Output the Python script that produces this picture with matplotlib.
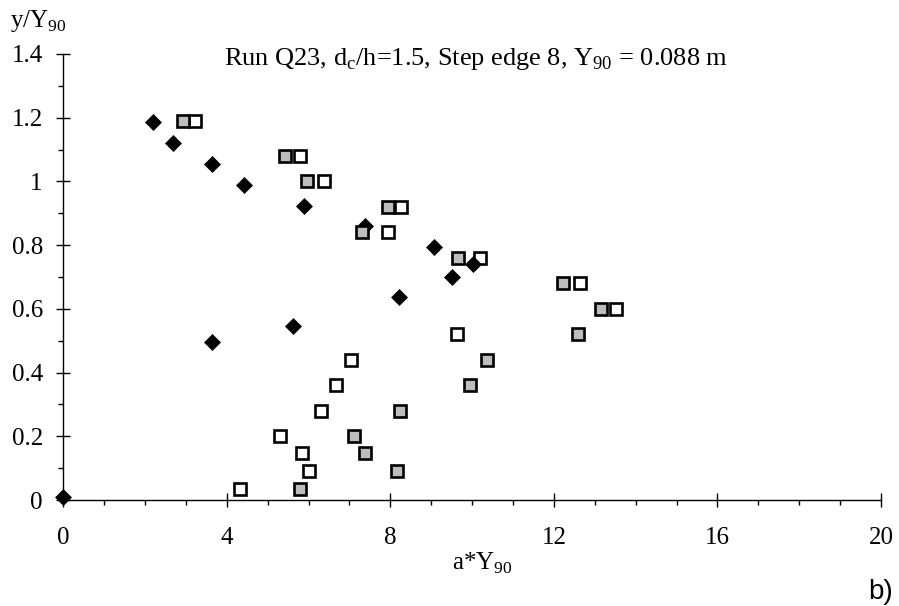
import numpy as np
import matplotlib
matplotlib.use('Agg')
import matplotlib.pyplot as plt
from matplotlib.ticker import MultipleLocator, FuncFormatter

plt.rcParams['font.family'] = ['Liberation Serif', 'DejaVu Serif']
plt.rcParams['mathtext.fontset'] = 'custom'
plt.rcParams['mathtext.rm'] = 'Liberation Serif'

# --- Data ---
# Black diamonds
dia_x = [0.0, 2.19, 2.68, 3.63, 4.41, 5.88, 7.38, 9.06, 10.02, 9.50, 8.21, 5.61, 3.64]
dia_y = [0.01, 1.186, 1.120, 1.054, 0.988, 0.923, 0.860, 0.794, 0.740, 0.700, 0.637, 0.546, 0.495]

# Shared vertical levels of the two square series
sq_y = [1.19, 1.08, 1.00, 0.92, 0.84, 0.76, 0.68, 0.60, 0.52, 0.44, 0.36, 0.28, 0.20, 0.146, 0.091, 0.033]

# Grey filled squares
grey_x = [2.92, 5.42, 5.97, 7.95, 7.30, 9.65, 12.22, 13.16, 12.59, 10.37, 9.94, 8.24, 7.10, 7.38, 8.17, 5.79]

# Open squares
open_x = [3.22, 5.79, 6.37, 8.26, 7.95, 10.18, 12.63, 13.53, 9.62, 7.03, 6.67, 6.30, 5.29, 5.85, 6.02, 4.32]

# --- Plot ---
fig = plt.figure(figsize=(8.99, 6.06), dpi=100)
ax = fig.add_axes([0.0704, 0.1749, 0.9096, 0.736])

ax.plot(open_x, sq_y, ls='none', marker='s', ms=8.2, mfc='white', mec='black', mew=1.9, zorder=3)
ax.plot(dia_x, dia_y, ls='none', marker='D', ms=8, mfc='black', mec='black', mew=0.5, zorder=4,
        clip_on=False)
ax.plot(grey_x, sq_y, ls='none', marker='s', ms=8.2, mfc='#bdbdbd', mec='black', mew=1.9, zorder=5)

ax.set_xlim(0, 20)
ax.set_ylim(0, 1.4)
ax.spines['top'].set_visible(False)
ax.spines['right'].set_visible(False)
for s in ('left', 'bottom'):
    ax.spines[s].set_linewidth(1.0)

ax.xaxis.set_major_locator(MultipleLocator(4))
ax.xaxis.set_minor_locator(MultipleLocator(1))
ax.yaxis.set_major_locator(MultipleLocator(0.2))
ax.yaxis.set_minor_locator(MultipleLocator(0.1))
ax.yaxis.set_major_formatter(FuncFormatter(lambda v, p: '%g' % round(v, 2)))

ax.tick_params(which='major', direction='inout', length=9.5, width=1.0, labelsize=18)
ax.tick_params(which='minor', direction='out', length=3.6, width=1.0)
ax.tick_params(axis='x', which='major', pad=15)
ax.tick_params(axis='y', which='major', pad=10)

fig.text(0.011, 0.965, r'y/Y$_\mathregular{90}$', fontsize=18, ha='left', va='center')
fig.text(0.536, 0.071, r'a*Y$_\mathregular{90}$', fontsize=18, ha='center', va='center')
fig.text(0.53, 0.893, r'Run Q23, d$_\mathregular{c}$/h=1.5, Step edge 8, Y$_\mathregular{90}$ = 0.088 m',
         fontsize=19, ha='center', va='baseline')
fig.text(0.993, 0.023, 'b)', fontsize=20, ha='right', va='center', family='Liberation Sans')

plt.savefig('out.png', dpi=100)
